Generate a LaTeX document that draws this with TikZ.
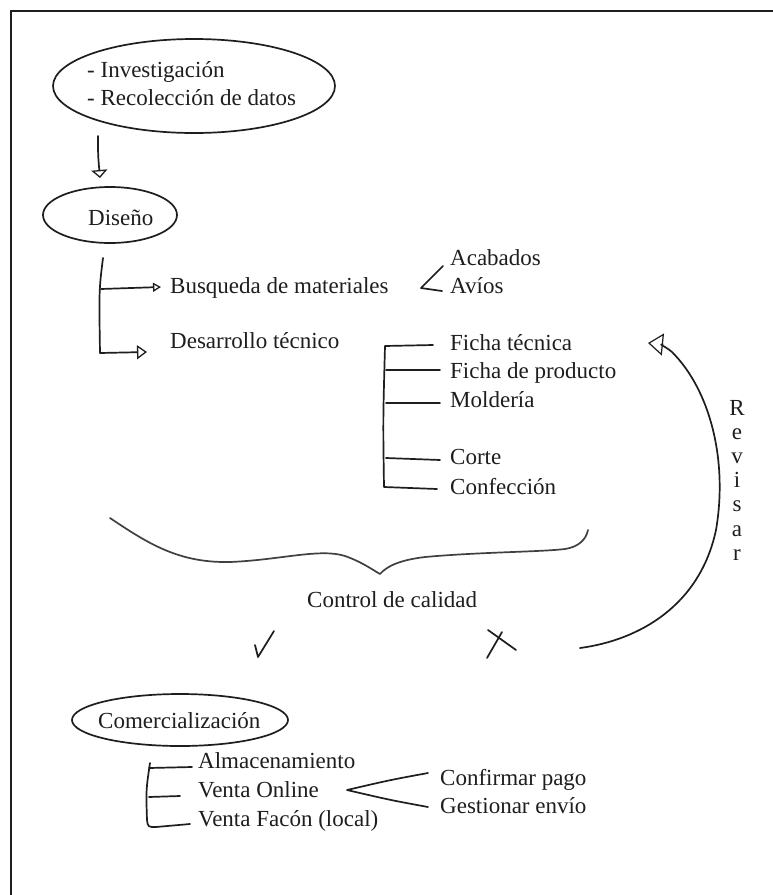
\documentclass[tikz,border=0pt]{standalone}
\usepackage{fontspec}
\setmainfont{Liberation Serif}
\usetikzlibrary{arrows.meta,shapes.geometric}
\definecolor{ink}{HTML}{1E1E1E}
\begin{document}
\begin{tikzpicture}[x=1pt,y=-1pt,
  txt/.style={anchor=base west, inner sep=0pt, text=ink, font=\fontsize{23}{27}\selectfont},
  letter/.style={anchor=base, inner sep=0pt, text=ink, font=\fontsize{23}{27}\selectfont},
  pen/.style={draw=ink, line width=1.7pt, line cap=round, line join=round},
  bubble/.style={ellipse, draw=ink, line width=1.7pt, inner sep=0pt},
  frame/.style={draw=ink, line width=2.2pt},
  headA/.style={-{Triangle[open, length=8pt, width=16pt, line width=1.3pt]}},
  headB/.style={-{Triangle[open, length=8pt, width=9pt, line width=1.3pt]}},
  headC/.style={-{Triangle[open, length=10pt, width=14pt, line width=1.3pt]}},
  headD/.style={-{Triangle[open, length=15pt, width=22pt, line width=1.2pt]}}
]
\useasboundingbox (0,0) rectangle (773,895);
\fill[white] (0,0) rectangle (773,895);

% open frame: top and left edges
\coordinate (fTL) at (11,11);
\coordinate (fTR) at (773,11);
\coordinate (fBL) at (11,895);
\draw[frame] (fTR) -- (fTL) -- (fBL);

% research bubble
\node[bubble, minimum width=282pt, minimum height=94pt] (research) at (194,86) {};
\node[txt] (inv) at (87,77) {- Investigación};
\node[txt] (rec) at (87,105) {- Recolección de datos};

% design bubble
\node[bubble, minimum width=134pt, minimum height=56pt] (disenoShape) at (110,215) {};
\node[txt] (diseno) at (88,225) {Diseño};

\coordinate (a1s) at (98,136);
\coordinate (a1e) at (100,178);
\draw[pen, headA] (a1s) .. controls (98,155) .. (a1e);

% design branches
\node[txt] (busq) at (170,293) {Busqueda de materiales};
\node[txt] (desa) at (170,348) {Desarrollo técnico};
\coordinate (bTop) at (103,258);
\coordinate (bMid) at (101,289);
\coordinate (bBot) at (100,353);
\draw[pen, headC] (bTop) .. controls (99,290) .. (bBot) -- (147,352);
\draw[pen, headB] (bMid) -- (161,287);

% materials
\node[txt] (acab) at (450,265) {Acabados};
\node[txt] (avios) at (450,293) {Avíos};
\coordinate (mV) at (421,288);
\draw[pen] (443,266) -- (mV) -- (442,291);

% technical development list
\node[txt] (ft) at (450,350) {Ficha técnica};
\node[txt] (fp) at (450,378) {Ficha de producto};
\node[txt] (mol) at (450,407) {Moldería};
\node[txt] (cor) at (450,464) {Corte};
\node[txt] (conf) at (450,494) {Confección};
\draw[pen] (433,345) -- (385,346) .. controls (383,420) .. (384,487) -- (437,489);
\draw[pen] (386,370) -- (440,370);
\draw[pen] (386,403) -- (440,403);
\draw[pen] (386,458) -- (440,460);

% quality control brace
\draw[pen, draw=ink!85] (110,518) .. controls (150,545) and (180,563) .. (230,562)
  .. controls (280,560) and (320,548) .. (345,556)
  .. controls (362,562) and (373,570) .. (380,574)
  .. controls (387,566) and (400,560) .. (425,557)
  .. controls (480,552) and (540,552) .. (565,549)
  .. controls (578,547) and (586,540) .. (588,530);
\node[txt] (qc) at (307,607) {Control de calidad};

% pass / fail marks
\draw[pen] (255,645) -- (258,657) -- (274,631);
\draw[pen] (488,630) -- (516,650);
\draw[pen] (487,658) -- (502,632);

% revise loop back to technical sheets
\coordinate (revS) at (580,648);
\coordinate (revE) at (648,343);
\draw[pen, headD] (revS) .. controls (640,640) and (700,605) .. (716,530)
  .. controls (728,460) and (710,390) .. (672,352)
  .. controls (665,346) and (658,344) .. (revE);
\foreach \ch [count=\i from 0] in {R,e,v,i,s,a,r}
  \node[letter] (rev\i) at (737,415+24.2*\i) {\ch};

% commercialisation
\node[bubble, minimum width=216pt, minimum height=52pt] (comShape) at (180,720) {};
\node[txt] (com) at (98,728) {Comercialización};
\node[txt] (alm) at (198,768) {Almacenamiento};
\node[txt] (vo) at (198,797) {Venta Online};
\node[txt] (vf) at (198,826) {Venta Facón (local)};
\draw[pen] (150,763) .. controls (146,790) .. (147,820) .. controls (148,827) .. (156,827) -- (190,824);
\draw[pen] (149,768) -- (192,767);
\draw[pen] (149,797) -- (180,796);

\coordinate (oV) at (347,790);
\node[txt] (pago) at (440,785) {Confirmar pago};
\node[txt] (envio) at (440,813) {Gestionar envío};
\draw[pen] (428,773) .. controls (390,780) .. (oV) .. controls (390,800) .. (428,807);
\end{tikzpicture}
\end{document}
